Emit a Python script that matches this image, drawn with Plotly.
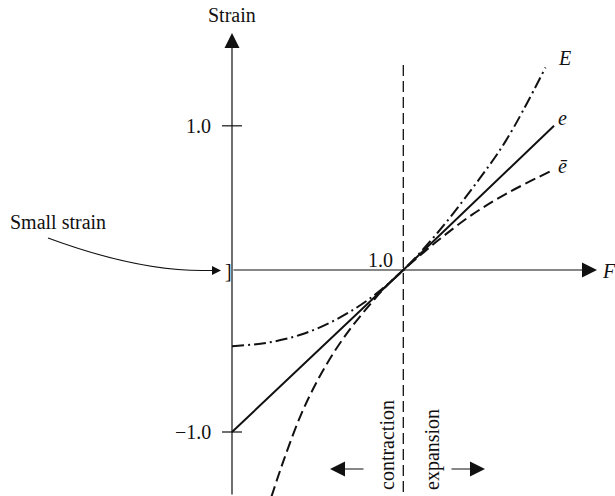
import plotly.graph_objects as go

# ---- data ----
F_E = [0.0, 0.2, 0.4, 0.6, 0.8, 1.0, 1.2, 1.4, 1.6, 1.83]
E_vals = [-0.47, -0.45, -0.40, -0.31, -0.18, 0.0, 0.23, 0.50, 0.80, 1.25]

F_e = [0.0, 1.0, 1.88]
e_vals = [-1.0, 0.0, 0.89]

F_ebar = [0.23, 0.3, 0.4, 0.5, 0.6, 0.7, 0.8, 0.9, 1.0, 1.2, 1.4, 1.6, 1.86]
ebar_vals = [-1.40, -1.18, -0.90, -0.68, -0.50, -0.35, -0.22, -0.10, 0.0, 0.18, 0.34, 0.47, 0.61]

y_tick_vals = [-1.0, 0.89]
y_tick_text = ["\u22121.0", "1.0"]
x_tick_vals = [1.0]
x_tick_text = ["1.0"]

curve_labels = ["<i>E</i>", "<i>e</i>", "<i>\u0113</i>"]

# ---- figure geometry ----
W, H = 615, 496
X0PX, Y0PX = 232.0, 270.0      # origin pixel
SX, SY = 171.3, 162.0          # pixels per unit

def px2x(px):
    return (px - X0PX) / SX

def py2y(py):
    return (Y0PX - py) / SY

FONT = "Liberation Serif, Times New Roman, serif"
BLACK = "#111111"
FS = 20

fig = go.Figure()
fig.add_trace(go.Scatter(x=F_E, y=E_vals, mode="lines", line=dict(color=BLACK, width=2.0, dash="12px,4px,2px,4px"),
                         line_shape="spline", hoverinfo="skip"))
fig.add_trace(go.Scatter(x=F_e, y=e_vals, mode="lines", line=dict(color=BLACK, width=2.0), hoverinfo="skip"))
fig.add_trace(go.Scatter(x=F_ebar, y=ebar_vals, mode="lines", line=dict(color=BLACK, width=2.0, dash="11px,5px"),
                         line_shape="spline", hoverinfo="skip"))

shapes = []
annotations = []

# vertical dashed line at F = 1
shapes.append(dict(type="line", xref="x", yref="y", x0=x_tick_vals[0], x1=x_tick_vals[0],
                   y0=py2y(65), y1=py2y(H + 5), line=dict(color=BLACK, width=1.3, dash="11px,5px")))

# y ticks (crossing the axis)
for v in y_tick_vals:
    shapes.append(dict(type="line", xref="x", yref="y", x0=px2x(X0PX - 10), x1=px2x(X0PX + 10),
                       y0=v, y1=v, line=dict(color=BLACK, width=1.2)))
for v, t in zip(y_tick_vals, y_tick_text):
    annotations.append(dict(x=px2x(213), y=v, xref="x", yref="y", text=t, showarrow=False,
                            xanchor="right", yanchor="middle", font=dict(family=FONT, size=FS, color=BLACK)))
for v, t in zip(x_tick_vals, x_tick_text):
    annotations.append(dict(x=v, y=py2y(260), xref="x", yref="y", text=t, showarrow=False,
                            xanchor="right", yanchor="middle", xshift=-8,
                            font=dict(family=FONT, size=FS, color=BLACK)))

# axes with arrows
annotations.append(dict(x=px2x(597), y=0, xref="x", yref="y", ax=-(597 - X0PX), ay=0,
                        axref="pixel", ayref="pixel", text="", showarrow=True,
                        arrowhead=2, arrowsize=2.5, arrowwidth=1.2, arrowcolor=BLACK, standoff=0))
annotations.append(dict(x=0, y=py2y(33), xref="x", yref="y", ax=0, ay=(H + 5 - 33),
                        axref="pixel", ayref="pixel", text="", showarrow=True,
                        arrowhead=2, arrowsize=2.5, arrowwidth=1.2, arrowcolor=BLACK, standoff=0))

# axis titles
annotations.append(dict(x=0, y=py2y(15), xref="x", yref="y", text="Strain", showarrow=False,
                        xanchor="center", yanchor="middle", font=dict(family=FONT, size=FS, color=BLACK)))
annotations.append(dict(x=px2x(600), y=0, xref="x", yref="y", text="<i>F</i>", showarrow=False,
                        xanchor="left", yanchor="middle", yshift=-1, font=dict(family=FONT, size=FS, color=BLACK)))

# curve labels
for txt, py in zip(curve_labels, [58, 118, 166]):
    annotations.append(dict(x=px2x(556), y=py2y(py), xref="x", yref="y", text=txt, showarrow=False,
                            xanchor="left", yanchor="middle", font=dict(family=FONT, size=FS, color=BLACK)))

# small strain note
annotations.append(dict(x=px2x(8), y=py2y(222), xref="x", yref="y", text="Small strain", showarrow=False,
                        xanchor="left", yanchor="middle", font=dict(family=FONT, size=FS, color=BLACK)))
p0, pc, p2 = (48, 238), (140, 272), (208, 270.5)
shapes.append(dict(type="path", xref="x", yref="y",
                   path=f"M {px2x(p0[0])},{py2y(p0[1])} Q {px2x(pc[0])},{py2y(pc[1])} {px2x(p2[0])},{py2y(p2[1])}",
                   line=dict(color=BLACK, width=1.1)))
annotations.append(dict(x=px2x(221), y=py2y(270.5), xref="x", yref="y", ax=-16, ay=0,
                        axref="pixel", ayref="pixel", text="", showarrow=True,
                        arrowhead=2, arrowsize=1.8, arrowwidth=1, arrowcolor=BLACK, standoff=0))
annotations.append(dict(x=px2x(228), y=py2y(271), xref="x", yref="y", text="]", showarrow=False,
                        xanchor="center", yanchor="middle", font=dict(family=FONT, size=FS, color=BLACK)))

# contraction / expansion
annotations.append(dict(x=px2x(387), y=py2y(445), xref="x", yref="y", text="contraction", showarrow=False,
                        textangle=-90, xanchor="center", yanchor="middle", font=dict(family=FONT, size=FS, color=BLACK)))
annotations.append(dict(x=px2x(432), y=py2y(450), xref="x", yref="y", text="expansion", showarrow=False,
                        textangle=-90, xanchor="center", yanchor="middle", font=dict(family=FONT, size=FS, color=BLACK)))
annotations.append(dict(x=px2x(330), y=py2y(469), xref="x", yref="y", ax=35, ay=0,
                        axref="pixel", ayref="pixel", text="", showarrow=True,
                        arrowhead=2, arrowsize=2.5, arrowwidth=1.2, arrowcolor=BLACK, standoff=0))
annotations.append(dict(x=px2x(485), y=py2y(469), xref="x", yref="y", ax=-35, ay=0,
                        axref="pixel", ayref="pixel", text="", showarrow=True,
                        arrowhead=2, arrowsize=2.5, arrowwidth=1.2, arrowcolor=BLACK, standoff=0))

fig.update_layout(
    width=W, height=H, autosize=False,
    margin=dict(l=0, r=0, t=0, b=0),
    paper_bgcolor="white", plot_bgcolor="white",
    showlegend=False,
    xaxis=dict(range=[px2x(0), px2x(W)], visible=False, fixedrange=True),
    yaxis=dict(range=[py2y(H), py2y(0)], visible=False, fixedrange=True),
    shapes=shapes, annotations=annotations,
)

fig.write_html("out.html", config={"displayModeBar": False},
               post_script="document.body.style.margin='0';document.body.style.overflow='hidden';")
